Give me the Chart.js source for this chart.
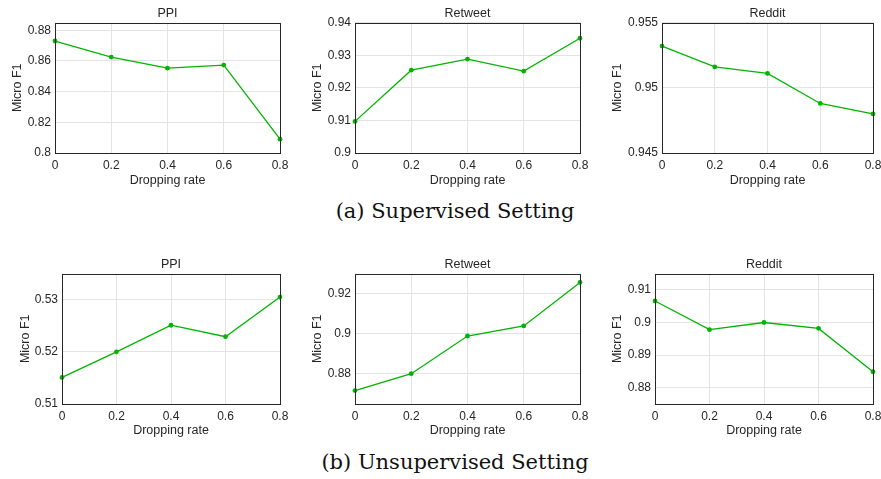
<!DOCTYPE html>
<html>
<head>
<meta charset="utf-8">
<script src="https://cdn.jsdelivr.net/npm/chart.js@4/dist/chart.umd.min.js"></script>
<style>
  body { margin: 0; background: #fff; }
  #wrap { position: relative; width: 881px; height: 479px; overflow: hidden; }
  .box { position: absolute; }
  .cap { position: absolute; left: 0; width: 910px; text-align: center; line-height: 24px;
         font-family: "DejaVu Serif", serif; font-size: 21px; color: #111; }
</style>
</head>
<body>
<div id="wrap">
  <div class="box" style="left:0;top:0;width:288px;height:188px"><canvas id="c1"></canvas></div>
  <div class="box" style="left:295px;top:0;width:293px;height:188px"><canvas id="c2"></canvas></div>
  <div class="box" style="left:590px;top:0;width:291px;height:188px"><canvas id="c3"></canvas></div>
  <div class="box" style="left:0;top:251px;width:288px;height:187px"><canvas id="c4"></canvas></div>
  <div class="box" style="left:295px;top:251px;width:293px;height:187px"><canvas id="c5"></canvas></div>
  <div class="box" style="left:590px;top:251px;width:291px;height:187px"><canvas id="c6"></canvas></div>
  <div class="cap" style="top:199px">(a) Supervised Setting</div>
  <div class="cap" style="top:450px">(b) Unsupervised Setting</div>
</div>
<script>
// dropping rates shared by every panel
const rates = [0, 0.2, 0.4, 0.6, 0.8];

// (a) supervised
const supPPI = [0.873, 0.8625, 0.8553, 0.8573, 0.809];
const supRetweet = [0.9097, 0.9254, 0.9288, 0.9251, 0.9352];
const supReddit = [0.9532, 0.9516, 0.9511, 0.9488, 0.948];

// (b) unsupervised
const unsPPI = [0.5151, 0.52, 0.5251, 0.5229, 0.5305];
const unsRetweet = [0.8717, 0.8801, 0.8989, 0.9039, 0.9256];
const unsReddit = [0.9066, 0.8978, 0.9, 0.8982, 0.8849];

// y tick labels
const ticksSupPPI = [0.8, 0.82, 0.84, 0.86, 0.88];
const ticksSupRetweet = [0.9, 0.91, 0.92, 0.93, 0.94];
const ticksSupReddit = [0.945, 0.95, 0.955];
const ticksUnsPPI = [0.51, 0.52, 0.53];
const ticksUnsRetweet = [0.88, 0.9, 0.92];
const ticksUnsReddit = [0.88, 0.89, 0.9, 0.91];

const green = '#00b400';
const ink = '#262626';
const gridColor = '#e3e3e3';
const font = 'Liberation Sans, Arial, sans-serif';

// MATLAB style box around the plot
const boxPlugin = {
    id: 'box',
    afterDatasetsDraw(chart) {
        const a = chart.chartArea, ctx = chart.ctx;
        ctx.save();
        ctx.strokeStyle = ink;
        ctx.lineWidth = 1;
        ctx.strokeRect(Math.round(a.left) + 0.5, Math.round(a.top) + 0.5,
            Math.round(a.right - a.left), Math.round(a.bottom - a.top));
        ctx.restore();
    }
};

function fmt(v) {
    return String(Number(v.toFixed(4)));
}

function panel(id, title, values, yTicks, yMin, yMax, yAxisWidth, xAxisHeight, yTitlePad) {
    new Chart(document.getElementById(id), {
        type: 'line',
        data: {
            datasets: [{
                data: rates.map((r, i) => ({ x: r, y: values[i] })),
                borderColor: green,
                backgroundColor: green,
                borderWidth: 1.3,
                pointRadius: 2.4,
                pointBorderWidth: 0,
                tension: 0,
                clip: false
            }]
        },
        options: {
            responsive: true,
            maintainAspectRatio: false,
            animation: false,
            layout: { padding: { left: 0, right: 8, top: 0, bottom: 0 } },
            plugins: {
                legend: { display: false },
                tooltip: { enabled: false },
                title: {
                    display: true,
                    text: title,
                    fullSize: false,
                    color: ink,
                    font: { family: font, size: 12.5, weight: 'normal' },
                    padding: { top: 6, bottom: 1.6 }
                }
            },
            scales: {
                x: {
                    type: 'linear',
                    min: 0,
                    max: 0.8,
                    afterBuildTicks: s => { s.ticks = rates.map(v => ({ value: v })); },
                    afterFit: s => { s.height = xAxisHeight; s.paddingLeft = 0; s.paddingRight = 0; },
                    ticks: { color: ink, padding: 5, maxRotation: 0, font: { family: font, size: 12 }, callback: v => fmt(v) },
                    grid: { color: gridColor, drawTicks: false },
                    border: { display: false },
                    title: { display: true, text: 'Dropping rate', color: ink, padding: { top: 0, bottom: 0 }, font: { family: font, size: 12.5 } }
                },
                y: {
                    min: yMin,
                    max: yMax,
                    afterBuildTicks: s => { s.ticks = yTicks.map(v => ({ value: v })); },
                    afterFit: s => { s.width = yAxisWidth; s.paddingTop = 0; s.paddingBottom = 0; },
                    ticks: { color: ink, padding: 4, font: { family: font, size: 12 }, callback: v => fmt(v) },
                    grid: { color: gridColor, drawTicks: false },
                    border: { display: false },
                    title: { display: true, text: 'Micro F1', color: ink, padding: { top: yTitlePad, bottom: 0 }, font: { family: font, size: 12.5 } }
                }
            }
        },
        plugins: [boxPlugin]
    });
}

panel('c1', 'PPI', supPPI, ticksSupPPI, 0.8, 0.885, 55, 35, 10);
panel('c2', 'Retweet', supRetweet, ticksSupRetweet, 0.9, 0.94, 60, 35, 15);
panel('c3', 'Reddit', supReddit, ticksSupReddit, 0.945, 0.955, 72, 35, 20);
panel('c4', 'PPI', unsPPI, ticksUnsPPI, 0.51, 0.535, 62, 34, 18);
panel('c5', 'Retweet', unsRetweet, ticksUnsRetweet, 0.865, 0.93, 60, 34, 15);
panel('c6', 'Reddit', unsReddit, ticksUnsReddit, 0.875, 0.915, 65, 34, 20);
</script>
</body>
</html>
